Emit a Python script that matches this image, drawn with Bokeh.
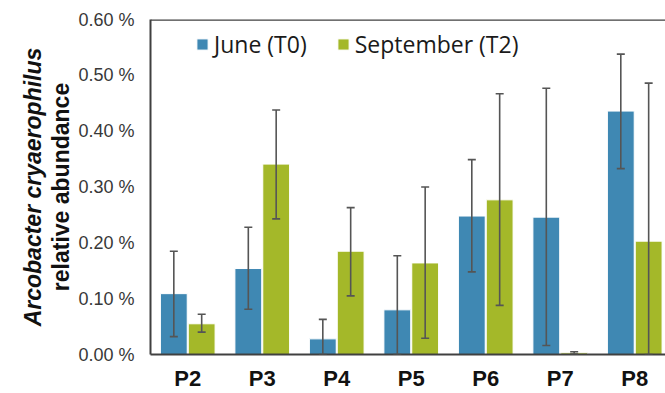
import numpy as np
from bokeh.plotting import figure
from bokeh.models import (ColumnDataSource, Range1d, FixedTicker, PrintfTickFormatter,
                          LinearAxis, Whisker, TeeHead, Legend, LegendItem, Span)
from bokeh.embed import file_html
from bokeh.resources import INLINE

# ---- data (percent relative abundance) ----
sites = ["P2", "P3", "P4", "P5", "P6", "P7", "P8"]
june = [0.109, 0.154, 0.028, 0.080, 0.248, 0.246, 0.436]
june_upper = [0.185, 0.228, 0.063, 0.177, 0.349, 0.477, 0.538]
june_lower = [0.032, 0.081, 0.0, 0.0, 0.148, 0.016, 0.333]
sept = [0.055, 0.341, 0.185, 0.164, 0.277, 0.003, 0.203]
sept_upper = [0.072, 0.438, 0.263, 0.300, 0.467, 0.005, 0.486]
sept_lower = [0.040, 0.243, 0.105, 0.029, 0.088, 0.001, 0.0]
y_ticks = [0.0, 0.1, 0.2, 0.3, 0.4, 0.5, 0.6]

BLUE = "#3F88B3"
GREEN = "#A4B829"
ERR = "#555555"
AXIS = "#404040"

idx = np.arange(len(sites))
off = 0.187
bw = 0.36

src_j = ColumnDataSource(dict(x=idx - off, top=june, up=june_upper, lo=june_lower))
src_s = ColumnDataSource(dict(x=idx + off, top=sept, up=sept_upper, lo=sept_lower))

p = figure(width=665, height=393, output_backend="svg", toolbar_location=None,
           x_range=Range1d(-0.5, 6.413), y_range=Range1d(0, 0.6),
           min_border_left=150, min_border_right=0, min_border_top=19, min_border_bottom=37)
p.outline_line_color = None
p.xgrid.visible = False
p.ygrid.visible = False
p.background_fill_color = "white"
p.border_fill_color = "white"

rj = p.vbar(x="x", top="top", width=bw, source=src_j, fill_color=BLUE,
            line_color="white", line_width=1)
rs = p.vbar(x="x", top="top", width=bw, source=src_s, fill_color=GREEN,
            line_color="white", line_width=1)

for src in (src_j, src_s):
    w = Whisker(base="x", upper="up", lower="lo", source=src, level="annotation",
                line_color=ERR, line_width=1.6,
                upper_head=TeeHead(size=8, line_color=ERR, line_width=1.6),
                lower_head=TeeHead(size=8, line_color=ERR, line_width=1.6))
    p.add_layout(w)

# top frame line
p.add_layout(Span(location=0.6, dimension="width", line_color=AXIS, line_width=2.5))

# x axis
p.xaxis.ticker = FixedTicker(ticks=list(idx))
p.xaxis.major_label_overrides = {int(i): s for i, s in zip(idx, sites)}
p.xaxis.major_tick_out = 0
p.xaxis.major_tick_in = 0
p.xaxis.axis_line_color = AXIS
p.xaxis.axis_line_width = 2
p.xaxis.major_label_text_font = "Liberation Sans"
p.xaxis.major_label_text_font_style = "bold"
p.xaxis.major_label_text_font_size = "22px"
p.xaxis.major_label_text_color = "#111111"
p.xaxis.major_label_standoff = 11

# y axis
p.yaxis.ticker = FixedTicker(ticks=y_ticks)
p.yaxis.formatter = PrintfTickFormatter(format="%.2f %%")
p.yaxis.major_tick_out = 0
p.yaxis.major_tick_in = 0
p.yaxis.minor_tick_out = 0
p.yaxis.minor_tick_in = 0
p.yaxis.axis_line_color = AXIS
p.yaxis.axis_line_width = 2
p.yaxis.major_label_text_font = "Liberation Sans"
p.yaxis.major_label_text_font_size = "18px"
p.yaxis.major_label_text_color = "#383838"
p.yaxis.major_label_standoff = 16
p.yaxis.axis_label = "relative abundance"
p.yaxis.axis_label_text_font = "Liberation Sans"
p.yaxis.axis_label_text_font_style = "bold"
p.yaxis.axis_label_text_font_size = "23px"
p.yaxis.axis_label_text_color = "#111111"
p.yaxis.axis_label_standoff = 1

ax2 = LinearAxis(axis_label="Arcobacter cryaerophilus",
                 axis_label_text_font="Liberation Sans",
                 axis_label_text_font_style="bold italic",
                 axis_label_text_font_size="23px",
                 axis_label_text_color="#111111",
                 axis_label_standoff=0,
                 axis_line_color=None, major_tick_out=0, major_tick_in=0,
                 minor_tick_out=0, minor_tick_in=0,
                 major_label_text_font_size="0px", major_label_standoff=0)
ax2.ticker = FixedTicker(ticks=[])
p.add_layout(ax2, "left")

legend = Legend(items=[LegendItem(label="June (T0)", renderers=[rj]),
                       LegendItem(label="September (T2)", renderers=[rs])],
                orientation="horizontal", location=(45, 294),
                label_text_font="Open Sans", label_text_font_size="23px",
                label_text_color="#1a1a1a", glyph_width=14, glyph_height=14,
                label_standoff=5, spacing=29, padding=0, margin=0,
                border_line_color=None, background_fill_alpha=0)
p.add_layout(legend)

open("out.html", "w").write(file_html(p, INLINE))
